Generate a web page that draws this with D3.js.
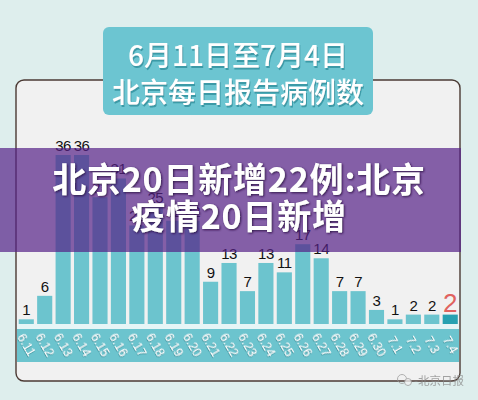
<!DOCTYPE html>
<html>
<head>
<meta charset="utf-8">
<script src="https://cdn.jsdelivr.net/npm/d3@7"></script>
<style>
  body { margin: 0; background: #deeeed; }
  svg { display: block; }
</style>
</head>
<body>
<svg id="chart"></svg>
<script>
// data
const dates = ["6.11", "6.12", "6.13", "6.14", "6.15", "6.16", "6.17", "6.18", "6.19", "6.20",
  "6.21", "6.22", "6.23", "6.24", "6.25", "6.26", "6.27", "6.28", "6.29", "6.30",
  "7.1", "7.2", "7.3", "7.4"];
const cases = [1, 6, 36, 36, 27, 31, 21, 25, 22, 22, 9, 13, 7, 13, 11, 17, 14, 7, 7, 3, 1, 2, 2, 2];
const titleLines = ["6月11日至7月4日", "北京每日报告病例数"];
const bannerLines = ["北京20日新增22例:北京", "疫情20日新增"];

const W = 478, H = 400;
const svg = d3.select("#chart").attr("width", W).attr("height", H);

const defs = svg.append("defs");
defs.append("filter").attr("id", "tshadow")
  .append("feDropShadow").attr("dx", 1).attr("dy", 2).attr("stdDeviation", 0.6)
  .attr("flood-color", "#2f8f9c").attr("flood-opacity", 0.8);
defs.append("filter").attr("id", "bshadow")
  .append("feDropShadow").attr("dx", 1).attr("dy", 1).attr("stdDeviation", 1)
  .attr("flood-color", "#2a1040").attr("flood-opacity", 0.9);
defs.append("filter").attr("id", "kshadow")
  .append("feDropShadow").attr("dx", 0.6).attr("dy", 0.8).attr("stdDeviation", 0.4)
  .attr("flood-color", "#3a8b95").attr("flood-opacity", 0.9);

// background
svg.append("rect").attr("width", W).attr("height", H).attr("fill", "#deeeed");

// panel
svg.append("rect")
  .attr("x", 16).attr("y", 80).attr("width", 444).attr("height", 301)
  .attr("rx", 8)
  .attr("fill", "#f1f1f1").attr("stroke", "#4b3a34").attr("stroke-width", 1.4);

// scales
const x = d3.scaleBand()
  .domain(dates)
  .range([16.5, 460])
  .paddingInner(0.18)
  .paddingOuter(0.12);

const y = d3.scaleLinear()
  .domain([0, 36])
  .range([324, 155]);

// light base under the bars + axis strip
svg.append("rect").attr("x", 17).attr("y", 324).attr("width", 442).attr("height", 5)
  .attr("fill", "#e6f5f6");
svg.append("rect").attr("x", 17).attr("y", 329).attr("width", 442).attr("height", 33)
  .attr("fill", "#6cc4ce");

// bars
const last = dates.length - 1;
svg.selectAll(".bar")
  .data(cases)
  .enter().append("rect")
  .attr("class", "bar")
  .attr("x", (d, i) => x(dates[i]))
  .attr("y", d => y(d))
  .attr("width", x.bandwidth())
  .attr("height", d => y(0) - y(d))
  .attr("fill", (d, i) => i === last ? "#27a1b1" : "#6cc4ce");

// value labels
svg.selectAll(".val")
  .data(cases)
  .enter().append("text")
  .attr("class", "val")
  .attr("x", (d, i) => x(dates[i]) + x.bandwidth() / 2)
  .attr("y", (d, i) => y(d) - (i === last ? 3 : 4))
  .attr("text-anchor", "middle")
  .attr("font-family", "Liberation Sans, Arial, sans-serif")
  .attr("font-size", (d, i) => i === last ? 26 : 15)
  .attr("letter-spacing", (d, i) => i === last ? 0 : -0.5)
  .attr("fill", (d, i) => i === last ? "#e0625f" : "#111")
  .text(d => d);

// axis tick labels (rotated)
const axis = svg.append("g")
  .attr("transform", "translate(0,345)")
  .call(d3.axisBottom(x).tickSize(0).tickPadding(0));
axis.select(".domain").remove();
axis.selectAll("text")
  .attr("y", 0).attr("dy", "0.35em")
  .attr("transform", "rotate(60)")
  .attr("text-anchor", "middle")
  .attr("font-family", "Liberation Sans, Arial, sans-serif")
  .attr("font-size", 12.5)
  .attr("fill", "#fff")
  .attr("filter", "url(#kshadow)");

// title box
svg.append("rect")
  .attr("x", 103).attr("y", 27).attr("width", 270).attr("height", 88)
  .attr("rx", 6).attr("fill", "#6cc5d1");
svg.selectAll(".title")
  .data(titleLines)
  .enter().append("text")
  .attr("class", "title")
  .attr("x", 238).attr("y", (d, i) => 66 + i * 37)
  .attr("text-anchor", "middle")
  .attr("font-family", "Noto Sans CJK SC, sans-serif")
  .attr("font-size", 28)
  .attr("font-weight", 500)
  .attr("fill", "#fff")
  .attr("filter", "url(#tshadow)")
  .text(d => d);

// purple banner overlay
svg.append("rect")
  .attr("x", 0).attr("y", 148).attr("width", 461).attr("height", 104)
  .attr("fill", "rgb(85,33,136)").attr("fill-opacity", 0.7);
svg.selectAll(".banner")
  .data(bannerLines)
  .enter().append("text")
  .attr("class", "banner")
  .attr("x", 239).attr("y", (d, i) => 192 + i * 37)
  .attr("text-anchor", "middle")
  .attr("font-family", "Noto Sans CJK SC, sans-serif")
  .attr("font-size", 34)
  .attr("letter-spacing", 0.8)
  .attr("font-weight", 700)
  .attr("fill", "#fff")
  .attr("filter", "url(#bshadow)")
  .text(d => d);

// watermark
const wm = svg.append("g").attr("opacity", 0.75);
wm.append("circle").attr("cx", 402).attr("cy", 379).attr("r", 4.5)
  .attr("fill", "none").attr("stroke", "#999").attr("stroke-width", 1);
wm.append("circle").attr("cx", 408).attr("cy", 382).attr("r", 3.5)
  .attr("fill", "#f4f4f4").attr("stroke", "#999").attr("stroke-width", 1);
wm.append("text")
  .attr("x", 414).attr("y", 385)
  .attr("font-family", "Noto Sans CJK SC, sans-serif")
  .attr("font-size", 11.5)
  .attr("fill", "#888")
  .text("-北京日报");
</script>
</body>
</html>
